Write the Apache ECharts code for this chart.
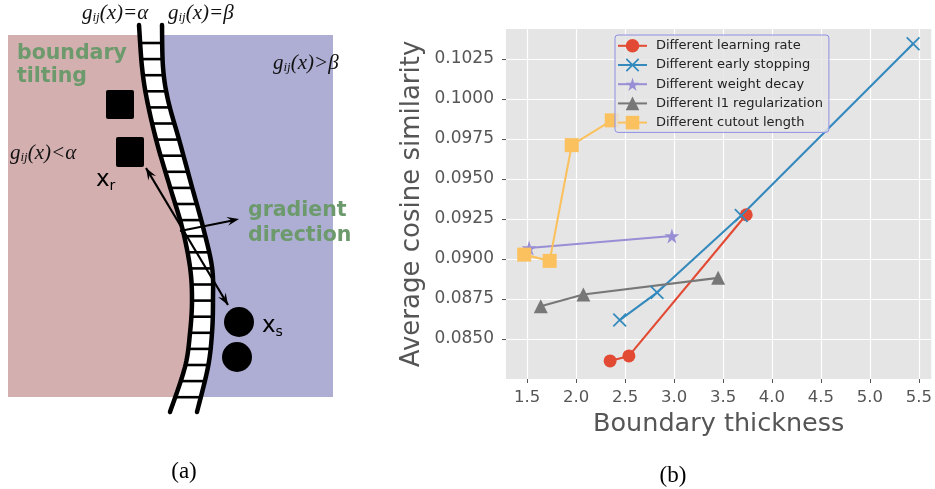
<!DOCTYPE html>
<html><head><meta charset="utf-8">
<script src="https://cdn.jsdelivr.net/npm/echarts@6/dist/echarts.min.js"></script>
<style>html,body{margin:0;padding:0;background:#fff}#c{width:935px;height:489px}</style>
</head><body><div id="c"></div>
<script>
// ---------- data ----------
const seriesNames = ['Different learning rate','Different early stopping','Different weight decay','Different l1 regularization','Different cutout length'];
const lrX = [2.347, 2.539, 3.737];
const lrY = [0.08363, 0.08394, 0.09276];
const esX = [2.445, 2.826, 3.686, 5.441];
const esY = [0.08618, 0.08790, 0.09271, 0.10345];
const wdX = [1.520, 2.978];
const wdY = [0.09068, 0.09143];
const l1X = [1.639, 2.074, 3.450];
const l1Y = [0.08705, 0.08778, 0.08882];
const coX = [1.470, 1.730, 1.955, 2.364];
const coY = [0.09027, 0.08988, 0.09711, 0.09866];
const xTicks = [1.5, 2.0, 2.5, 3.0, 3.5, 4.0, 4.5, 5.0, 5.5];
const yTicks = [0.0850, 0.0875, 0.0900, 0.0925, 0.0950, 0.0975, 0.1000, 0.1025];

// ---------- diagram (panel a) ----------
function catmull(pts, n) {
  const out = [];
  for (let i = 0; i < pts.length - 1; i++) {
    const p0 = pts[Math.max(i - 1, 0)], p1 = pts[i], p2 = pts[i + 1], p3 = pts[Math.min(i + 2, pts.length - 1)];
    for (let k = 0; k < n; k++) {
      const t = k / n, t2 = t * t, t3 = t2 * t;
      const f = (a, b, c, d) => 0.5 * ((2 * b) + (-a + c) * t + (2 * a - 5 * b + 4 * c - d) * t2 + (-a + 3 * b - 3 * c + d) * t3);
      out.push([f(p0[0], p1[0], p2[0], p3[0]), f(p0[1], p1[1], p2[1], p3[1])]);
    }
  }
  out.push(pts[pts.length - 1].slice());
  return out;
}
function xAt(curve, y) {
  for (let i = 0; i < curve.length - 1; i++) {
    const a = curve[i], b = curve[i + 1];
    if ((a[1] - y) * (b[1] - y) <= 0) {
      const t = (y - a[1]) / ((b[1] - a[1]) || 1);
      return a[0] + t * (b[0] - a[0]);
    }
  }
  return curve[curve.length - 1][0];
}
function arrowHead(tip, from) {
  const dx = tip[0] - from[0], dy = tip[1] - from[1];
  const L = Math.hypot(dx, dy), ux = dx / L, uy = dy / L, nx = -uy, ny = ux;
  const len = 12, w = 4.5;
  return {
    type: 'polygon',
    shape: { points: [
      tip,
      [tip[0] - ux * len + nx * w, tip[1] - uy * len + ny * w],
      [tip[0] - ux * len * 0.62, tip[1] - uy * len * 0.62],
      [tip[0] - ux * len - nx * w, tip[1] - uy * len - ny * w]
    ] },
    style: { fill: '#000' }
  };
}
function buildDiagram() {
  const left = catmull([[139,25],[142,67],[147,100],[157,143],[170,187],[182,227],[190,267],[192,300],[190,333],[185,367],[170,412]], 12);
  const right = catmull([[162,25],[163,67],[168,100],[180,143],[192,187],[203,227],[212,267],[213,300],[212,333],[208,367],[197,412]], 12);
  const els = [];
  els.push({ type: 'rect', shape: { x: 8, y: 35, width: 205, height: 362 }, style: { fill: '#d3afaf' } });
  const blueEdge = right.filter(p => p[1] >= 35 && p[1] <= 397);
  const bluePts = [[xAt(right, 35), 35]].concat(blueEdge, [[xAt(right, 397), 397], [333, 397], [333, 35]]);
  els.push({ type: 'polygon', shape: { points: bluePts }, style: { fill: '#aeaed4' } });
  els.push({ type: 'polygon', shape: { points: left.concat(right.slice().reverse()) }, style: { fill: '#ffffff' } });
  for (let y = 43; y <= 400; y += 16.1) {
    els.push({ type: 'line', shape: { x1: xAt(left, y), y1: y, x2: xAt(right, y), y2: y }, style: { stroke: '#000', lineWidth: 2.6 } });
  }
  els.push({ type: 'polyline', shape: { points: left }, style: { stroke: '#000', lineWidth: 4.5, lineCap: 'round', fill: null } });
  els.push({ type: 'polyline', shape: { points: right }, style: { stroke: '#000', lineWidth: 4.5, lineCap: 'round', fill: null } });
  els.push({ type: 'rect', shape: { x: 106, y: 90, width: 28, height: 29, r: 2 }, style: { fill: '#000' } });
  els.push({ type: 'rect', shape: { x: 116, y: 137, width: 28, height: 30, r: 2 }, style: { fill: '#000' } });
  els.push({ type: 'circle', shape: { cx: 239, cy: 322, r: 15 }, style: { fill: '#000' } });
  els.push({ type: 'circle', shape: { cx: 237, cy: 357, r: 15 }, style: { fill: '#000' } });
  const a1 = [146, 168], a2 = [228, 305];
  els.push({ type: 'line', shape: { x1: a1[0], y1: a1[1], x2: a2[0], y2: a2[1] }, style: { stroke: '#000', lineWidth: 2.2 } });
  els.push(arrowHead(a1, a2));
  els.push(arrowHead(a2, a1));
  const g1 = [180, 231], g2 = [239, 219];
  els.push({ type: 'line', shape: { x1: g1[0], y1: g1[1], x2: g2[0] - 4, y2: g2[1] + 1 }, style: { stroke: '#000', lineWidth: 2.2 } });
  els.push(arrowHead(g2, g1));
  const serif = 'Liberation Serif';
  const mathRich = {
    i: { fontFamily: serif, fontStyle: 'italic', fontSize: 21, fill: '#111' },
    s: { fontFamily: serif, fontStyle: 'italic', fontSize: 13, fill: '#111', padding: [10, 0, 0, 0] }
  };
  const mathText = (x, y, tail) => ({ type: 'text', x, y, style: { text: '{i|g}{s|ij}{i|' + tail + '}', rich: mathRich, align: 'left', verticalAlign: 'middle' } });
  els.push(mathText(82, 13, '(x)=α'));
  els.push(mathText(168, 13, '(x)=β'));
  els.push(mathText(273, 63, '(x)>β'));
  els.push(mathText(10, 153, '(x)<α'));
  const green = '#6c9a6c';
  const gText = (x, y, t) => ({ type: 'text', x, y, style: { text: t, fontFamily: 'DejaVu Sans', fontWeight: 'bold', fontSize: 20.5, fill: green, align: 'left', verticalAlign: 'middle' } });
  els.push(gText(17, 54, 'boundary'));
  els.push(gText(17, 77, 'tilting'));
  els.push(gText(248, 211, 'gradient'));
  els.push(gText(248, 236, 'direction'));
  const subRich = {
    a: { fontFamily: 'DejaVu Sans', fontSize: 23, fill: '#000' },
    b: { fontFamily: 'DejaVu Sans', fontSize: 14, fill: '#000', padding: [12, 0, 0, 0] }
  };
  els.push({ type: 'text', x: 96, y: 180, style: { text: '{a|x}{b|r}', rich: subRich, align: 'left', verticalAlign: 'middle' } });
  els.push({ type: 'text', x: 262, y: 326, style: { text: '{a|x}{b|s}', rich: subRich, align: 'left', verticalAlign: 'middle' } });
  els.push({ type: 'text', x: 184, y: 472, style: { text: '(a)', fontFamily: serif, fontSize: 23, fill: '#000', align: 'center', verticalAlign: 'middle' } });
  els.push({ type: 'text', x: 673, y: 476, style: { text: '(b)', fontFamily: serif, fontSize: 23, fill: '#000', align: 'center', verticalAlign: 'middle' } });
  return els;
}

// ---------- chart (panel b) ----------
const chart = echarts.init(document.getElementById('c'), null, { renderer: 'canvas' });
const starPath = 'path://M50,0L61,35L98,35L68,57L79,91L50,70L21,91L32,57L2,35L39,35Z';
const xPath = 'path://M0,0.9L0.9,0L10,9.1L9.1,10Z M9.1,0L10,0.9L0.9,10L0,9.1Z';
const mk = (name, xs, ys, color, symbol, size) => ({
  name, type: 'line', data: xs.map((x, i) => [x, ys[i]]),
  symbol, symbolSize: size, showSymbol: true,
  lineStyle: { color, width: 2.1 }, itemStyle: { color, borderWidth: 0 },
  emphasis: { disabled: true }, animation: false
});
chart.setOption({
  animation: false,
  textStyle: { fontFamily: 'DejaVu Sans' },
  graphic: { elements: buildDiagram() },
  grid: { left: 506, right: 0, top: 29, bottom: 110, show: true, backgroundColor: '#e5e5e5', borderWidth: 0, containLabel: false },
  legend: {
    left: 615, top: 35, orient: 'vertical',
    itemWidth: 29, itemHeight: 17, itemGap: 5.6,
    padding: [4, 6, 3, 2],
    backgroundColor: 'rgba(229,229,229,0.8)', borderColor: '#8e8ee4', borderWidth: 1, borderRadius: 3,
    textStyle: { fontSize: 13, color: '#222', fontFamily: 'DejaVu Sans', padding: [0, 0, 0, 4] },
    data: seriesNames
  },
  xAxis: {
    type: 'value', min: 1.284, max: 5.627, splitNumber: 9,
    name: 'Boundary thickness', nameLocation: 'middle', nameGap: 31,
    nameTextStyle: { fontSize: 25.5, color: '#555', fontFamily: 'DejaVu Sans' },
    axisLine: { show: false },
    axisTick: { show: true, length: 4, lineStyle: { color: '#555' }, customValues: xTicks },
    axisLabel: { fontSize: 16.5, color: '#555', margin: 10, customValues: xTicks, formatter: v => v.toFixed(1) },
    splitLine: { show: true, lineStyle: { color: '#ffffff', width: 1.2 } }
  },
  yAxis: {
    type: 'value', min: 0.0825, max: 0.104366, interval: 0.0025,
    name: 'Average cosine similarity', nameLocation: 'middle', nameGap: 81,
    nameTextStyle: { fontSize: 26, color: '#555', fontFamily: 'DejaVu Sans' },
    axisLine: { show: false },
    axisTick: { show: true, length: 4, lineStyle: { color: '#555' }, customValues: yTicks },
    axisLabel: { fontSize: 17, color: '#555', margin: 12, customValues: yTicks, formatter: v => v.toFixed(4) },
    splitLine: { show: true, lineStyle: { color: '#ffffff', width: 1.2 } }
  },
  series: [
    mk(seriesNames[0], lrX, lrY, '#E24A33', 'circle', 13),
    mk(seriesNames[1], esX, esY, '#348ABD', xPath, 14),
    mk(seriesNames[2], wdX, wdY, '#988ED5', starPath, 15),
    mk(seriesNames[3], l1X, l1Y, '#777777', 'triangle', 14),
    mk(seriesNames[4], coX, coY, '#FBC15E', 'rect', 14)
  ]
});
</script></body></html>
